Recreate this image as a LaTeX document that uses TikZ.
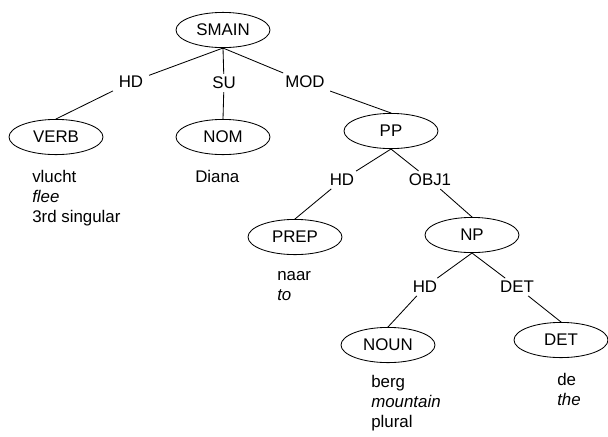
\documentclass[tikz,border=0pt]{standalone}
\usepackage{fontspec}
\setmainfont{Liberation Sans}
\usepackage{tikz}
\usetikzlibrary{shapes.geometric}

\begin{document}
\begin{tikzpicture}[
    cat/.style={ellipse, draw, line width=0.6pt, minimum width=2.35cm, minimum height=0.88cm, inner sep=0pt},
    rel/.style={inner xsep=4pt, inner ysep=2pt},
    word/.style={anchor=north west, align=left, inner sep=0pt},
    font=\fontsize{12}{14.2}\selectfont]
      \useasboundingbox (0,0) rectangle (15.2,-10.9);
      %%%%%%%%%%%%%%%%%%%%%%%%%%%%%%%%%%%%%%%%%%%%%%%
      \node[cat] at (5.575,-0.75) (smain) {SMAIN};
      %%%%%%%%%%%%%%%%%%%%%%%%%%%%%%%%%%%%%%%%%%%%%%%
      \node[rel] at (3.275,-2.05)  (r1) {HD};
      \node[rel] at (5.6,-2.075)   (r2) {SU};
      \node[rel] at (7.625,-2.05)  (r3) {MOD};
      \node[cat] at (1.4,-3.425)   (verb) {VERB};
      \node[cat] at (5.575,-3.425) (nom) {NOM};
      \node[cat] at (9.775,-3.275) (pp) {PP};
      \node[word] at (0.8,-4.25)   (w1) {vlucht\\\textit{flee}\\3rd singular};
      \node[word] at (4.875,-4.25) (w2) {Diana};
      \draw[line width=0.6pt] (smain.south) -- (r1)
            (r1) -- (verb.north)
            (smain.south) -- (r2)
            (r2) -- (nom.north)
            (smain.south) -- (r3)
            (r3) -- (pp.north);
      %%%%%%%%%%%%%%%%%%%%%%%%%%%%%%%%%%%%%%%%%%%%%%%
      \node[rel] at (8.55,-4.5)    (r4) {HD};
      \node[rel] at (10.75,-4.5)   (r5) {OBJ1};
      \node[cat] at (7.375,-5.925) (prep) {PREP};
      \node[cat] at (11.8,-5.875)  (np) {NP};
      \node[word] at (6.925,-6.775) (w3) {naar\\\textit{to}};
      \draw[line width=0.6pt] (pp.south) -- (r4)
            (r4) -- (prep.north)
            (pp.south) -- (r5)
            (r5) -- (np.north);
      %%%%%%%%%%%%%%%%%%%%%%%%%%%%%%%%%%%%%%%%%%%%%%%
      \node[rel] at (10.625,-7.175) (r6) {HD};
      \node[rel] at (12.925,-7.175) (r7) {DET};
      \node[cat] at (9.7,-8.625)    (noun) {NOUN};
      \node[cat] at (14.025,-8.5)   (det) {DET};
      \node[word] at (9.275,-9.375) (w4) {berg\\\textit{mountain}\\plural};
      \node[word] at (13.925,-9.325) (w5) {de\\\textit{the}};
      \draw[line width=0.6pt] (np.south) -- (r6)
            (r6) -- (noun.north)
            (np.south) -- (r7)
            (r7) -- (det.north);
      %%%%%%%%%%%%%%%%%%%%%%%%%%%%%%%%%%%%%%%%%%%%%%%
\end{tikzpicture}
\end{document}
